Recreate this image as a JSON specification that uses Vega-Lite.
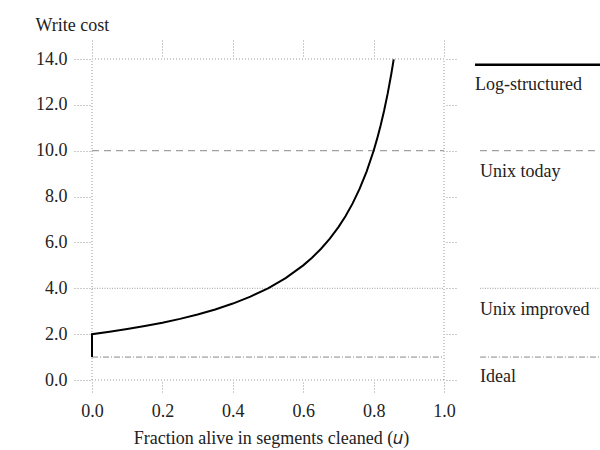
{
  "$schema": "https://vega.github.io/schema/vega-lite/v6.json",
  "autosize": {"type": "none"},
  "padding": {"left": 92, "top": 59, "right": 0, "bottom": 70},
  "width": 508,
  "height": 321,
  "background": "white",
  "config": {
    "view": {"stroke": null},
    "font": "Liberation Serif",
    "text": {"font": "Liberation Serif"}
  },
  "resolve": {"axis": {"x": "independent", "y": "independent"}},
  "layer": [
    {
      "data": {"values": [{"cost": 0}, {"cost": 14}]},
      "mark": {"type": "rule", "stroke": "#999", "strokeDash": [1, 2], "strokeWidth": 1},
      "encoding": {
        "y": {"field": "cost", "type": "quantitative", "scale": {"domain": [0, 14], "nice": false}, "axis": null},
        "x": {"datum": 0, "type": "quantitative", "scale": {"domain": [0, 1.443], "nice": false, "zero": false}, "axis": null},
        "x2": {"datum": 1}
      }
    },
    {
      "data": {"values": [{"u": 0}, {"u": 1}]},
      "mark": {"type": "rule", "stroke": "#999", "strokeDash": [1, 2], "strokeWidth": 1},
      "encoding": {
        "x": {"field": "u", "type": "quantitative", "axis": null},
        "y": {"datum": 0, "type": "quantitative", "axis": null},
        "y2": {"datum": 14}
      }
    },
    {
      "data": {"values": [
        {"name": "today", "cost": 10, "x0": 0, "x1": 1},
        {"name": "today", "cost": 10, "x0": 1.102, "x1": 1.443},
        {"name": "improved", "cost": 4, "x0": 0, "x1": 1},
        {"name": "improved", "cost": 4, "x0": 1.102, "x1": 1.443},
        {"name": "ideal", "cost": 1, "x0": 0, "x1": 1},
        {"name": "ideal", "cost": 1, "x0": 1.102, "x1": 1.443}
      ]},
      "mark": {"type": "rule", "strokeWidth": 1},
      "encoding": {
        "y": {"field": "cost", "type": "quantitative", "axis": null},
        "x": {"field": "x0", "type": "quantitative", "axis": null},
        "x2": {"field": "x1"},
        "strokeDash": {"field": "name", "type": "nominal", "scale": {"domain": ["today", "improved", "ideal"], "range": [[7, 5], [1, 1.5], [6, 2, 1, 2]]}, "legend": null},
        "color": {"field": "name", "type": "nominal", "scale": {"domain": ["today", "improved", "ideal"], "range": ["#888", "#999", "#888"]}, "legend": null}
      }
    },
    {
      "data": {"values": [
        {"i": 0, "u": 0, "cost": 1},
        {"i": 1, "u": 0, "cost": 2},
        {"i": 2, "u": 0.05, "cost": 2.1053},
        {"i": 3, "u": 0.1, "cost": 2.2222},
        {"i": 4, "u": 0.15, "cost": 2.3529},
        {"i": 5, "u": 0.2, "cost": 2.5},
        {"i": 6, "u": 0.25, "cost": 2.6667},
        {"i": 7, "u": 0.3, "cost": 2.8571},
        {"i": 8, "u": 0.35, "cost": 3.0769},
        {"i": 9, "u": 0.4, "cost": 3.3333},
        {"i": 10, "u": 0.45, "cost": 3.6364},
        {"i": 11, "u": 0.5, "cost": 4.0},
        {"i": 12, "u": 0.55, "cost": 4.4444},
        {"i": 13, "u": 0.6, "cost": 5.0},
        {"i": 14, "u": 0.625, "cost": 5.3333},
        {"i": 15, "u": 0.65, "cost": 5.7143},
        {"i": 16, "u": 0.675, "cost": 6.1538},
        {"i": 17, "u": 0.7, "cost": 6.6667},
        {"i": 18, "u": 0.72, "cost": 7.1429},
        {"i": 19, "u": 0.74, "cost": 7.6923},
        {"i": 20, "u": 0.76, "cost": 8.3333},
        {"i": 21, "u": 0.78, "cost": 9.0909},
        {"i": 22, "u": 0.8, "cost": 10.0},
        {"i": 23, "u": 0.81, "cost": 10.526},
        {"i": 24, "u": 0.82, "cost": 11.111},
        {"i": 25, "u": 0.83, "cost": 11.765},
        {"i": 26, "u": 0.84, "cost": 12.5},
        {"i": 27, "u": 0.85, "cost": 13.333},
        {"i": 28, "u": 0.857, "cost": 13.986}
      ]},
      "mark": {"type": "line", "stroke": "black", "strokeWidth": 2},
      "encoding": {
        "order": {"field": "i", "type": "quantitative"},
        "x": {"field": "u", "type": "quantitative",
          "axis": {"orient": "bottom", "values": [0, 0.2, 0.4, 0.6, 0.8, 1.0], "format": ".1f", "offset": 2, "tickSize": 11, "tickColor": "#999", "tickDash": [1, 2], "domain": false, "grid": false, "labelFlush": false, "labelPadding": 9, "labelFont": "Liberation Serif", "labelFontSize": 18, "labelColor": "#222", "title": "Fraction alive in segments cleaned (𝑢)", "titleFont": "Liberation Serif", "titleFontSize": 18, "titleFontWeight": "normal", "titleColor": "#222", "titleX": 179, "titleY": 61, "titleAlign": "center", "titleBaseline": "alphabetic"}},
        "y": {"field": "cost", "type": "quantitative",
          "axis": {"orient": "left", "values": [0, 2, 4, 6, 8, 10, 12, 14], "format": ".1f", "offset": 2, "tickSize": 17, "tickColor": "#999", "tickDash": [1, 2], "domain": false, "grid": false, "labelFlush": false, "labelPadding": 6, "labelFont": "Liberation Serif", "labelFontSize": 18, "labelColor": "#222", "title": "Write cost", "titleFont": "Liberation Serif", "titleFontSize": 18, "titleFontWeight": "normal", "titleColor": "#222", "titleAngle": 0, "titleX": -55, "titleY": -34, "titleAlign": "left", "titleBaseline": "middle"}}
      }
    },
    {
      "data": {"values": [{"u": 1.088, "u2": 1.443, "cost": 13.75}]},
      "mark": {"type": "rule", "stroke": "black", "strokeWidth": 2.5},
      "encoding": {
        "x": {"field": "u", "type": "quantitative", "axis": null},
        "x2": {"field": "u2"},
        "y": {"field": "cost", "type": "quantitative", "axis": null}
      }
    },
    {
      "data": {"values": [
        {"label": "Log-structured", "u": 1.088, "cost": 12.85},
        {"label": "Unix today", "u": 1.102, "cost": 9.05},
        {"label": "Unix improved", "u": 1.102, "cost": 3.05},
        {"label": "Ideal", "u": 1.102, "cost": 0.12}
      ]},
      "mark": {"type": "text", "align": "left", "baseline": "middle", "fontSize": 18, "font": "Liberation Serif", "color": "#222"},
      "encoding": {
        "x": {"field": "u", "type": "quantitative", "axis": null},
        "y": {"field": "cost", "type": "quantitative", "axis": null},
        "text": {"field": "label", "type": "nominal"}
      }
    },
    {
      "data": {"values": [{"u": 0, "cost": 0}]},
      "mark": {"type": "point", "opacity": 0},
      "encoding": {
        "x": {"field": "u", "type": "quantitative",
          "axis": {"orient": "top", "values": [0, 0.2, 0.4, 0.6, 0.8, 1.0], "offset": 3, "tickSize": 16, "tickColor": "#999", "tickDash": [1, 2], "domain": false, "grid": false, "labels": false, "title": null}},
        "y": {"field": "cost", "type": "quantitative",
          "axis": {"orient": "right", "values": [0, 2, 4, 6, 8, 10, 12, 14], "offset": -154, "tickSize": 12, "tickColor": "#999", "tickDash": [1, 2], "domain": false, "grid": false, "labels": false, "title": null}}
      }
    }
  ]
}
